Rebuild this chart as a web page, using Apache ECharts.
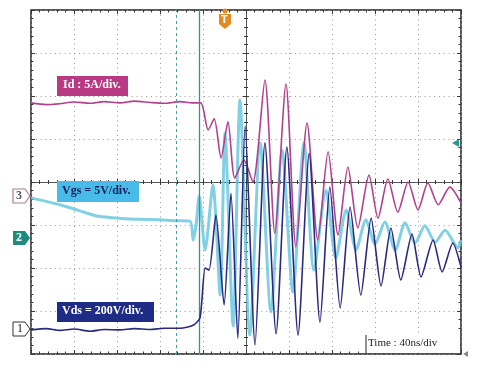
<!DOCTYPE html>
<html>
<head>
<meta charset="utf-8">
<script src="https://cdn.jsdelivr.net/npm/echarts@6/dist/echarts.min.js"></script>
<style>
  html, body { margin: 0; padding: 0; background: #fff; }
  #chart { width: 498px; height: 370px; }
</style>
</head>
<body>
<div id="chart"></div>
<script>
// Time in divisions (40 ns/div), amplitude in divisions (centre line = 0)
const id_t = [0,0.35,0.67,1.0,1.37,1.7,2.07,2.4,2.77,3.1,3.47,3.75,3.95,4.12,4.26,4.42,4.58,4.74,4.95,5.16,5.44,5.67,5.93,6.16,6.42,6.67,6.91,7.14,7.37,7.60,7.86,8.07,8.30,8.53,8.77,9.00,9.23,9.47,9.74,10.0];
const id_v = [1.84,1.80,1.82,1.86,1.83,1.87,1.84,1.88,1.85,1.83,1.87,1.84,1.84,1.21,1.47,0.56,1.40,0.09,0.51,0.00,2.37,-1.19,2.28,-1.51,1.37,-1.35,0.70,-1.23,0.35,-1.07,0.16,-0.84,0.07,-0.70,0.00,-0.65,-0.02,-0.53,-0.12,-0.49];

const vds_t = [0,0.35,0.67,1.0,1.37,1.7,2.07,2.4,2.77,3.1,3.47,3.77,3.93,4.05,4.14,4.30,4.49,4.65,4.81,4.98,5.21,5.44,5.70,5.95,6.21,6.47,6.72,6.95,7.19,7.42,7.67,7.91,8.14,8.37,8.60,8.86,9.07,9.35,9.56,9.81,10.0];
const vds_v = [-3.44,-3.41,-3.45,-3.42,-3.47,-3.43,-3.44,-3.41,-3.43,-3.40,-3.40,-3.33,-3.16,-2.00,-2.05,-0.77,-2.86,-0.26,-3.63,1.30,-3.79,0.91,-3.53,0.81,-3.56,0.67,-3.26,-0.12,-2.93,-0.58,-2.63,-0.84,-2.42,-1.07,-2.28,-1.21,-2.21,-1.35,-2.09,-1.42,-1.98];

const vgs_t = [0,0.67,1.1,1.53,1.9,2.30,2.65,3.00,3.35,3.70,3.77,3.84,3.91,4.05,4.23,4.40,4.51,4.70,4.86,5.09,5.33,5.58,5.84,6.09,6.35,6.58,6.86,7.09,7.33,7.56,7.79,8.00,8.23,8.47,8.70,8.93,9.16,9.40,9.63,9.93,10.0];
const vgs_v = [-0.37,-0.53,-0.66,-0.79,-0.83,-0.86,-0.87,-0.88,-0.90,-0.91,-1.35,-1.00,-0.33,-1.58,-0.07,-2.63,1.14,-3.35,1.91,-3.56,0.91,-3.02,0.74,-2.56,0.91,-2.05,-0.19,-1.77,-0.65,-1.58,-0.88,-1.44,-0.93,-1.58,-0.95,-1.42,-1.02,-1.40,-1.12,-1.53,-1.35];

const cursors = [3.37, 3.91];
const labels = { id: 'Id : 5A/div.', vgs: 'Vgs = 5V/div.', vds: 'Vds = 200V/div.', time: 'Time : 40ns/div' };

const pair = (t, v) => t.map((x, i) => [x, v[i]]);
const tickColor = '#3a3a3a';

function xAx(pos, inside, opts) {
  return Object.assign({
    type: 'value', min: 0, max: 10, interval: 1, position: pos,
    axisLine: { show: false, onZero: false },
    axisTick: { show: true, inside: inside, length: 4, lineStyle: { color: tickColor } },
    minorTick: { show: true, splitNumber: 5, length: 2.5, lineStyle: { color: tickColor } },
    axisLabel: { show: false },
    splitLine: { show: false }
  }, opts || {});
}
function yAx(pos, inside, opts) {
  return Object.assign({
    type: 'value', min: -4, max: 4, interval: 1, position: pos,
    axisLine: { show: false, onZero: false },
    axisTick: { show: true, inside: inside, length: 4, lineStyle: { color: tickColor } },
    minorTick: { show: true, splitNumber: 5, length: 2.5, lineStyle: { color: tickColor } },
    axisLabel: { show: false },
    splitLine: { show: false }
  }, opts || {});
}
const dotted = { show: true, lineStyle: { color: '#999', type: [1, 3.8], width: 1 } };
const centreLine = { show: true, onZero: true, lineStyle: { color: '#555', width: 1 } };

const chart = echarts.init(document.getElementById('chart'), null, { renderer: 'canvas' });
const option = {
  animation: false,
  backgroundColor: '#ffffff',
  grid: { left: 31, top: 10, width: 430, height: 344, show: true, borderColor: '#222', borderWidth: 1.5, backgroundColor: '#fff' },
  xAxis: [
    xAx('bottom', true, { splitLine: dotted }),
    xAx('top', true),
    xAx('bottom', true, { axisLine: centreLine, axisTick: { show: true, inside: true, length: 3, lineStyle: { color: tickColor } }, minorTick: { show: true, splitNumber: 5, length: 2, lineStyle: { color: tickColor } } }),
    xAx('bottom', false, { axisLine: centreLine, axisTick: { show: true, inside: false, length: 3, lineStyle: { color: tickColor } }, minorTick: { show: true, splitNumber: 5, length: 2, lineStyle: { color: tickColor } } })
  ],
  yAxis: [
    yAx('left', true, { splitLine: dotted }),
    yAx('right', true),
    yAx('left', true, { offset: -215, axisLine: { show: true, onZero: false, lineStyle: { color: '#555', width: 1 } }, axisTick: { show: true, inside: true, length: 3, lineStyle: { color: tickColor } }, minorTick: { show: true, splitNumber: 5, length: 2, lineStyle: { color: tickColor } } }),
    yAx('left', false, { offset: -215, axisLine: { show: false, onZero: false }, axisTick: { show: true, inside: false, length: 3, lineStyle: { color: tickColor } }, minorTick: { show: true, splitNumber: 5, length: 2, lineStyle: { color: tickColor } } })
  ],
  series: [
    {
      name: 'Vgs', type: 'line', data: pair(vgs_t, vgs_v), showSymbol: false, smooth: 0.25,
      lineStyle: { color: '#6cc8df', width: 3, opacity: 0.85 }, z: 3,
      markLine: {
        silent: true, symbol: 'none', label: { show: false },
        data: [
          { xAxis: cursors[0], lineStyle: { color: '#3aa2b2', type: [3, 3], width: 1 } },
          { xAxis: cursors[1], lineStyle: { color: '#2e968f', type: 'solid', width: 1.3 } }
        ]
      }
    },
    { name: 'Id', type: 'line', data: pair(id_t, id_v), showSymbol: false, smooth: 0.25,
      lineStyle: { color: '#b3408d', width: 1.6 }, z: 4 },
    { name: 'Vds', type: 'line', data: pair(vds_t, vds_v), showSymbol: false, smooth: 0.22,
      lineStyle: { color: '#2a2a80', width: 1.6 }, z: 5 }
  ],
  graphic: [
    // channel label boxes
    { type: 'rect', left: 57, top: 76, shape: { width: 71, height: 20 }, style: { fill: '#b73a82' }, z: 20 },
    { type: 'text', left: 63, top: 79, style: { text: labels.id, fill: '#fff', font: 'bold 12px "Liberation Serif"' }, z: 21 },
    { type: 'rect', left: 57, top: 181, shape: { width: 82, height: 21 }, style: { fill: '#48bbe8' }, z: 20 },
    { type: 'text', left: 62, top: 185, style: { text: labels.vgs, fill: '#16205e', font: 'bold 12px "Liberation Serif"' }, z: 21 },
    { type: 'rect', left: 57, top: 302, shape: { width: 97, height: 20 }, style: { fill: '#1f2c86' }, z: 20 },
    { type: 'text', left: 62, top: 305, style: { text: labels.vds, fill: '#fff', font: 'bold 12px "Liberation Serif"' }, z: 21 },
    { type: 'rect', left: 366, top: 335, shape: { width: 94, height: 18 }, style: { fill: '#fff' }, z: 20 },
    { type: 'line', shape: { x1: 366, y1: 335, x2: 366, y2: 353 }, style: { stroke: '#222', lineWidth: 1 }, z: 21 },
    { type: 'text', left: 368, top: 338, style: { text: labels.time, fill: '#222', font: '11px "Liberation Serif"' }, z: 21 },
    // channel ground markers
    { type: 'polygon', shape: { points: [[13,189],[25,189],[30,196],[25,203],[13,203]] }, style: { fill: '#fff', stroke: '#b07a9e', lineWidth: 1.2 }, z: 20 },
    { type: 'text', left: 16, top: 190, style: { text: '3', fill: '#555', font: 'bold 12px "Liberation Serif"' }, z: 21 },
    { type: 'polygon', shape: { points: [[13,231],[25,231],[30,238],[25,245],[13,245]] }, style: { fill: '#1c8c7e' }, z: 20 },
    { type: 'text', left: 16, top: 232, style: { text: '2', fill: '#fff', font: 'bold 12px "Liberation Serif"' }, z: 21 },
    { type: 'polygon', shape: { points: [[13,322],[25,322],[30,329],[25,336],[13,336]] }, style: { fill: '#fff', stroke: '#333', lineWidth: 1 }, z: 20 },
    { type: 'text', left: 17, top: 323, style: { text: '1', fill: '#222', font: '12px "Liberation Serif"' }, z: 21 },
    // trigger position marker
    { type: 'circle', shape: { cx: 225, cy: 11, r: 2.5 }, style: { fill: '#e38b22' }, z: 20 },
    { type: 'polygon', shape: { points: [[219,14],[231,14],[231,24],[225,29],[219,24]] }, style: { fill: '#e38b22' }, z: 20 },
    { type: 'text', left: 221, top: 14, style: { text: 'T', fill: '#fff', font: 'bold 11px "Liberation Sans"' }, z: 21 },
    // trigger level marker
    { type: 'polygon', shape: { points: [[452,143],[459,139],[459,147]] }, style: { fill: '#2a9a90' }, z: 20 },
    { type: 'polygon', shape: { points: [[463,354],[468,351],[468,357]] }, style: { fill: '#888' }, z: 20 }
  ]
};
chart.setOption(option);
</script>
</body>
</html>
